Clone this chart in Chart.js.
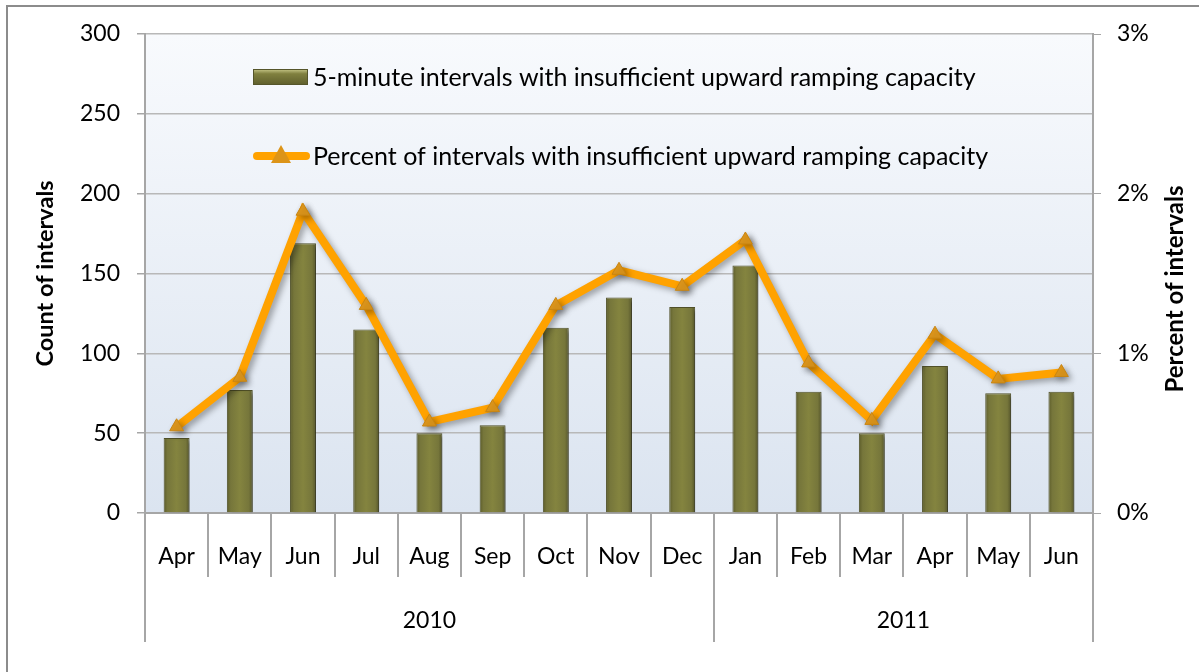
<!DOCTYPE html>
<html>
<head>
<meta charset="utf-8">
<script src="https://cdn.jsdelivr.net/npm/chart.js@4/dist/chart.umd.min.js"></script>
<style>
  html, body { margin: 0; padding: 0; background: #fff; }
  canvas { display: block; }
</style>
</head>
<body>
<canvas id="grafico" width="1199" height="672"></canvas>
<script>
// datos
const meses = ['Apr','May','Jun','Jul','Aug','Sep','Oct','Nov','Dec','Jan','Feb','Mar','Apr','May','Jun'];
const anios = ['2010', '2011'];
const mesesPorAnio = [9, 6];
const conteo = [47, 77, 169, 115, 50, 55, 116, 135, 129, 155, 76, 50, 92, 75, 76];
const porcentaje = [0.54, 0.85, 1.89, 1.30, 0.57, 0.66, 1.30, 1.52, 1.42, 1.71, 0.94, 0.58, 1.12, 0.84, 0.88];
const ticksIzq = [0, 50, 100, 150, 200, 250, 300];
const ticksDer = [0, 1, 2, 3];
const tituloDer = 'Percent of intervals';

const FUENTE = 'Lato';
const GRIS = '#a6a6a6';

// fondo, marco, leyenda y años
const decoraciones = {
    id: 'decoraciones',
    beforeDraw(chart) {
        const { ctx, chartArea: a } = chart;
        ctx.save();
        ctx.fillStyle = '#fff';
        ctx.fillRect(0, 0, chart.width, chart.height);
        ctx.strokeStyle = '#8c8c8c';
        ctx.lineWidth = 2;
        ctx.strokeRect(7, 6, chart.width + 10, chart.height + 10);
        const g = ctx.createLinearGradient(0, a.top, 0, a.bottom);
        g.addColorStop(0, '#f8fafd');
        g.addColorStop(1, '#dbe4f0');
        ctx.fillStyle = g;
        ctx.fillRect(a.left, a.top, a.right - a.left, a.bottom - a.top);
        ctx.restore();
    },
    beforeDatasetDraw(chart, args) {
        const ctx = chart.ctx;
        ctx.save();
        ctx.shadowColor = 'rgba(0,0,0,0.35)';
        ctx.shadowBlur = args.index === 1 ? 6 : 3;
        ctx.shadowOffsetX = 3;
        ctx.shadowOffsetY = 3;
    },
    afterDatasetDraw(chart) {
        chart.ctx.restore();
    },
    afterDraw(chart) {
        const { ctx, chartArea: a, scales } = chart;
        const x = scales.x;
        ctx.save();

        // divisiones de meses y años
        ctx.strokeStyle = GRIS;
        ctx.lineWidth = 2;
        let acumulado = 0;
        const limites = [0];
        mesesPorAnio.forEach(n => { acumulado += n; limites.push(acumulado); });
        for (let i = 0; i <= meses.length; i++) {
            const px = Math.round(x.getPixelForValue(i - 0.5));
            const largo = limites.includes(i) ? 129 : 64;
            ctx.beginPath();
            ctx.moveTo(px, a.bottom);
            ctx.lineTo(px, a.bottom + largo);
            ctx.stroke();
        }
        ctx.fillStyle = '#000';
        ctx.font = '23px ' + FUENTE;
        ctx.textAlign = 'center';
        ctx.textBaseline = 'middle';
        anios.forEach((anio, k) => {
            const centro = (x.getPixelForValue(limites[k] - 0.5) + x.getPixelForValue(limites[k + 1] - 0.5)) / 2;
            ctx.fillText(anio, centro, a.bottom + 108);
        });

        // título del eje derecho (de abajo hacia arriba)
        ctx.save();
        ctx.translate(1175, 289);
        ctx.rotate(-Math.PI / 2);
        ctx.font = 'bold 24px ' + FUENTE;
        ctx.fillText(tituloDer, 0, 0);
        ctx.restore();

        // leyenda
        const ds = chart.data.datasets;
        const lx = a.left + 108;
        const ly1 = a.top + 43;
        const ly2 = a.top + 122;
        const gb = ctx.createLinearGradient(0, ly1 - 8, 0, ly1 + 8);
        gb.addColorStop(0, '#c9c98a');
        gb.addColorStop(0.3, '#80803f');
        gb.addColorStop(1, '#5e5e2c');
        ctx.fillStyle = gb;
        ctx.fillRect(lx, ly1 - 8, 55, 16);
        ctx.strokeStyle = '#55552a';
        ctx.lineWidth = 1;
        ctx.strokeRect(lx + 0.5, ly1 - 7.5, 54, 15);

        ctx.strokeStyle = '#ffa200';
        ctx.lineWidth = 8;
        ctx.lineCap = 'round';
        ctx.beginPath();
        ctx.moveTo(lx + 4, ly2);
        ctx.lineTo(lx + 53, ly2);
        ctx.stroke();
        ctx.fillStyle = '#dc9418';
        ctx.beginPath();
        ctx.moveTo(lx + 28, ly2 - 11);
        ctx.lineTo(lx + 38, ly2 + 7);
        ctx.lineTo(lx + 18, ly2 + 7);
        ctx.closePath();
        ctx.fill();

        ctx.fillStyle = '#000';
        ctx.font = '25px ' + FUENTE;
        ctx.textAlign = 'left';
        ctx.fillText(ds[0].label, lx + 60, ly1 + 1);
        ctx.fillText(ds[1].label, lx + 60, ly2 + 1);
        ctx.restore();
    }
};

function colorBarra(context) {
    const chart = context.chart;
    const x = chart.scales.x;
    if (!chart.chartArea || !x) return '#77773a';
    const cx = x.getPixelForValue(context.dataIndex);
    const w = (x.width / meses.length) * 0.41;
    const g = chart.ctx.createLinearGradient(cx - w / 2, 0, cx + w / 2, 0);
    g.addColorStop(0, '#5c5c2a');
    g.addColorStop(0.15, '#76763b');
    g.addColorStop(0.5, '#84843f');
    g.addColorStop(0.85, '#76763b');
    g.addColorStop(1, '#55552a');
    return g;
}

new Chart(document.getElementById('grafico').getContext('2d'), {
    data: {
        labels: meses,
        datasets: [{
            type: 'bar',
            label: '5-minute intervals with insufficient upward ramping capacity',
            data: conteo,
            yAxisID: 'y',
            backgroundColor: colorBarra,
            borderColor: '#505028',
            borderWidth: 1,
            barPercentage: 0.41,
            categoryPercentage: 1,
            order: 1
        }, {
            type: 'line',
            label: 'Percent of intervals with insufficient upward ramping capacity',
            data: porcentaje,
            yAxisID: 'y1',
            borderColor: '#ffa200',
            borderWidth: 8,
            pointStyle: 'triangle',
            pointRadius: 8,
            pointBackgroundColor: '#e0981c',
            pointBorderColor: '#c98512',
            pointBorderWidth: 1,
            tension: 0,
            order: 0
        }]
    },
    options: {
        responsive: false,
        animation: false,
        devicePixelRatio: 1,
        layout: { padding: { top: 34, left: 0, right: 0, bottom: 0 } },
        plugins: { legend: { display: false }, tooltip: { enabled: false } },
        scales: {
            x: {
                afterFit: s => { s.height = 159; },
                grid: { display: false },
                border: { display: true, color: GRIS, width: 2 },
                ticks: { color: '#000', font: { family: FUENTE, size: 23 }, padding: 22, maxRotation: 0, autoSkip: false }
            },
            y: {
                position: 'left',
                min: 0, max: 300,
                afterFit: s => { s.width = 145; },
                afterBuildTicks: s => { s.ticks = ticksIzq.map(v => ({ value: v })); },
                grid: { color: '#b8b8b8', lineWidth: 1.5, tickLength: 8, tickColor: GRIS },
                border: { color: GRIS, width: 2 },
                ticks: { color: '#000', font: { family: FUENTE, size: 23 }, padding: 17 },
                title: { display: true, text: 'Count of intervals', color: '#000', font: { family: FUENTE, size: 23.5, weight: 'bold' }, padding: { top: 31 } }
            },
            y1: {
                position: 'right',
                min: 0, max: 3,
                afterFit: s => { s.width = 106; },
                afterBuildTicks: s => { s.ticks = ticksDer.map(v => ({ value: v })); },
                grid: { drawOnChartArea: false, tickLength: 8, color: GRIS },
                border: { color: GRIS, width: 2 },
                ticks: { color: '#000', font: { family: FUENTE, size: 23 }, padding: 16, callback: v => v + '%' }
            }
        }
    },
    plugins: [decoraciones]
});
</script>
</body>
</html>
